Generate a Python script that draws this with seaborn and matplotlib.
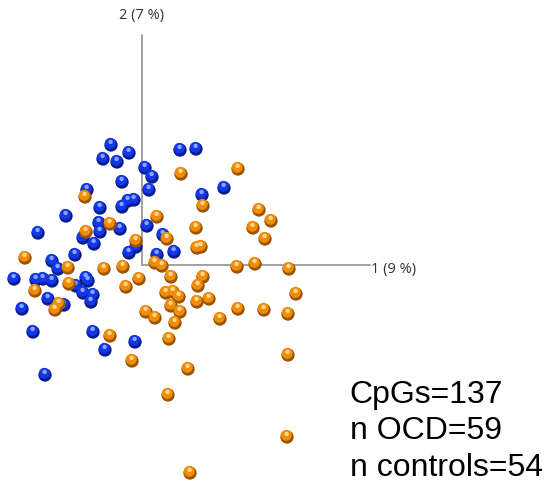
import matplotlib
matplotlib.use("Agg")
import matplotlib.pyplot as plt
import matplotlib.transforms as mtransforms
import pandas as pd
import seaborn as sns

# PCA scores (component 1, component 2)
ctrl_pc1 = [-1.55, -1.95, -1.25, -0.65, 0.15, -1.00, -2.75, -2.10, -1.00, -0.70,
            -0.40, -3.80, -2.15, -2.10, -1.10, 0.25, -5.20, -2.95, -2.40, -3.35,
            -0.65, -0.30, -4.50, -4.20, -6.40, -5.30, -4.95, -4.50, -3.30, -2.95,
            -2.80, -2.70, -2.45, -2.55, -4.70, -4.25, -3.90, -6.00, -5.45, -2.45,
            -1.85, -0.35, -4.85, 1.90, 2.70, 0.50, 0.35, 3.00, 4.10, 1.05,
            1.60, 0.75]
ctrl_pc2 = [6.00, 5.30, 5.15, 5.60, 4.85, 4.15, 3.75, 2.85, 2.90, 3.20,
            3.25, 2.45, 2.10, 1.65, 1.80, 1.95, 1.60, 1.35, 1.05, 0.50,
            0.60, 0.90, 0.20, -0.20, -0.70, -0.75, -0.70, -0.80, -1.05, -1.40,
            -0.65, -0.80, -1.50, -1.85, -1.70, -2.10, -2.00, -2.20, -3.35, -3.35,
            -4.25, -3.85, -5.50, 5.75, 5.80, 4.40, 3.75, 3.50, 3.85, 1.50,
            0.65, 0.50]

ocd_pc1 = [-2.85, -1.60, -2.80, -0.30, -5.85, -3.70, -1.90, -0.95,
           -0.15, -0.80, -5.35, -3.65, -4.15, -4.35, -1.60, -0.50, 0.20,
           1.95, 4.80, 3.05, 0.75, 5.85, 6.45, 5.55, 6.15, 2.70, 1.25,
           2.95, 2.75, 0.65, 1.00, 4.75, 5.65, 7.35,
           1.45, 3.05, 2.80, 1.20, 1.55, 1.85, 1.45, 1.90, 2.75, 3.35,
           7.70, 0.65, 1.65, 3.90, 4.80, 6.10, 7.30, 1.35, 7.30, 2.30,
           1.30, 7.25, 2.40]
ocd_pc2 = [3.40, 2.05, 1.65, 1.20, 0.35, -0.15, -0.20, -0.10,
           -0.70, -1.10, -1.30, -0.95, -1.95, -2.25, -3.55, -4.80, -2.35,
           4.55, 4.80, 2.95, 2.40, 2.75, 2.20, 1.85, 1.30, 1.85, 1.30,
           0.90, 0.85, 0.10, -0.05, -0.10, 0.05, -0.20,
           -0.60, -0.60, -1.05, -1.40, -1.35, -1.60, -2.05, -2.35, -1.85, -1.70,
           -1.45, -2.65, -2.90, -2.70, -2.20, -2.25, -2.45, -3.70, -4.50, -5.20,
           -6.50, -8.60, -10.40]

axis_len_1 = 11.4
axis_len_2 = 11.5
axis_labels = ["1 (9 %)", "2 (7 %)"]
info_lines = ["CpGs=137", "n OCD=59", "n controls=54"]

df = pd.concat([
    pd.DataFrame({"PC1": ctrl_pc1, "PC2": ctrl_pc2, "group": "control"}),
    pd.DataFrame({"PC1": ocd_pc1, "PC2": ocd_pc2, "group": "OCD"}),
], ignore_index=True)

body = {"control": "#1236e8", "OCD": "#f08c08"}
rim = {"control": "#071c8a", "OCD": "#9a5404"}
shine = {"control": "#8aa4ff", "OCD": "#ffd890"}

sns.set_style("white")

fig = plt.figure(figsize=(5.48, 4.84), dpi=100)
ax = fig.add_axes([0, 0, 1, 1])
ax.set_xlim(-7.1, 20.3)
ax.set_ylim(-10.95, 13.25)
ax.axis("off")

# axes through the origin
ax.plot([0, axis_len_1], [0, 0], color="#9a9a9a", lw=1.3, zorder=1)
ax.plot([0, 0], [0, axis_len_2], color="#9a9a9a", lw=1.3, zorder=1)
ax.annotate(axis_labels[0], (axis_len_1, 0), xytext=(1, -3.5), textcoords="offset points",
            ha="left", va="center", fontsize=10.5, color="#333333", family="Open Sans")
ax.annotate(axis_labels[1], (0, axis_len_2), xytext=(0, 14), textcoords="offset points",
            ha="center", va="center", fontsize=10.5, color="#333333", family="Open Sans")

# spheres: dark rim, body, highlight
shift = mtransforms.offset_copy(ax.transData, fig=fig, x=-0.5, y=1.2, units="points")
for g in ["control", "OCD"]:
    sub = df[df["group"] == g]
    sns.scatterplot(data=sub, x="PC1", y="PC2", ax=ax, s=92, color=rim[g],
                    edgecolor="none", legend=False, zorder=2)
    sns.scatterplot(data=sub, x="PC1", y="PC2", ax=ax, s=62, color=body[g],
                    edgecolor="none", legend=False, zorder=2, transform=shift)
    sns.scatterplot(data=sub, x="PC1", y="PC2", ax=ax, s=10, color=shine[g],
                    edgecolor="none", legend=False, zorder=2,
                    transform=mtransforms.offset_copy(ax.transData, fig=fig, x=-0.3, y=2.2,
                                                      units="points"))

for i, line in enumerate(info_lines):
    fig.text(0.638, 0.168 - i * 0.0755, line, fontsize=23, family="Liberation Sans",
             color="black", va="baseline", ha="left")

fig.savefig("out.png", dpi=100)
